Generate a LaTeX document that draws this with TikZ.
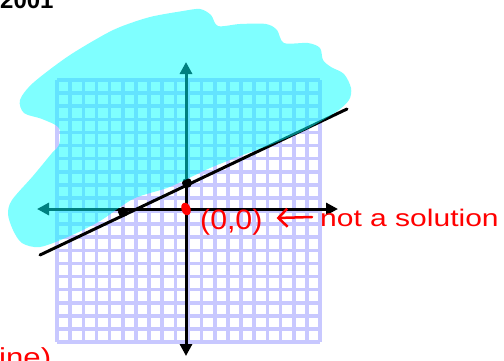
\documentclass[tikz,border=0pt]{standalone}
\usepackage{fontspec}
\setmainfont{Liberation Sans}
\usetikzlibrary{arrows.meta,shapes.geometric}
\definecolor{gridc}{RGB}{200,200,255}
\definecolor{hl}{RGB}{0,255,255}
\definecolor{inkred}{RGB}{255,0,0}
\tikzset{
  gridline/.style={draw=gridc, line width=3.6pt},
  axisline/.style={draw=black, line width=3pt, {Triangle[length=12pt,width=12pt]}-{Triangle[length=12pt,width=12pt]}},
  bound/.style={draw=black, line width=3pt, line cap=round},
  blackdot/.style={circle, fill=black, inner sep=0pt, minimum size=10pt},
  reddot/.style={ellipse, fill=inkred, inner sep=0pt, minimum width=9pt, minimum height=13pt, rotate=20},
  redtext/.style={text=inkred, inner sep=0pt, font=\fontsize{24}{28}\selectfont},
  redarrow/.style={draw=inkred, line width=2.5pt, line cap=round, -{Straight Barb[length=9pt,width=18pt,line width=2.5pt]}},
  highlight/.style={fill=hl, fill opacity=0.5}
}
\begin{document}
\begin{tikzpicture}[x=1pt,y=-1pt]
\useasboundingbox (0,0) rectangle (504,360);
\clip (0,0) rectangle (504,360);
\fill[white] (0,0) rectangle (504,360);
% grid
\foreach \i in {0,...,20} {
  \draw[gridline] (57+\i*13.15,80) -- (57+\i*13.15,342);
  \draw[gridline] (57,80+\i*13.1) -- (320,80+\i*13.1);
}
% axes
\coordinate (ytop) at (186,62);
\coordinate (ybot) at (186,356);
\coordinate (xleft) at (37,209);
\coordinate (xright) at (338,209);
\draw[axisline] (ybot) -- (ytop);
\draw[axisline] (xleft) -- (xright);
% boundary line
\coordinate (lA) at (40,255);
\coordinate (lB) at (347,109);
\draw[bound] (lA) -- (lB);
\node[blackdot] (p1) at (123,212) {};
\node[blackdot] (p2) at (187,183) {};
\node[reddot] (o) at (186,209) {};
% highlighter
\fill[highlight] plot[smooth cycle, tension=0.5] coordinates {
 (40,247) (70,236) (100,221) (133,199) (167,188) (187,179) (210,168)
 (240,156) (270,145) (305,130) (336,112) (349,100) (351,88) (344,74)
 (331,67) (323,60) (320,48) (308,43) (284,43) (277,30) (266,24)
 (240,24) (218,26) (211,15) (200,9) (183,11) (150,17) (120,27)
 (100,37) (67,57) (33,83) (20,100) (24,113) (42,119) (59,128)
 (59,145) (52,153) (33,176) (12,200) (8,214) (13,230) (22,243)
};
% texts
\node[redtext, anchor=base west] (orig) at (200,229) {\fontsize{28}{32}\selectfont\scalebox{1.08}[1]{(0,0)}};
\node[redtext, anchor=base west] (notsol) at (320,226) {\scalebox{1.25}[1]{not a solution}};
\draw[redarrow] ([xshift=-8pt,yshift=9pt]notsol.base west) -- ([xshift=14pt,yshift=11pt]orig.base east);
\node[redtext, anchor=base west] (lineend) at (-1,366) {\fontsize{26}{30}\selectfont\scalebox{1.2}[1]{ine)}};
\node[inner sep=0pt, anchor=base west, font=\fontsize{24}{28}\selectfont\bfseries] (toptext) at (0,8) {2001};
\end{tikzpicture}
\end{document}
